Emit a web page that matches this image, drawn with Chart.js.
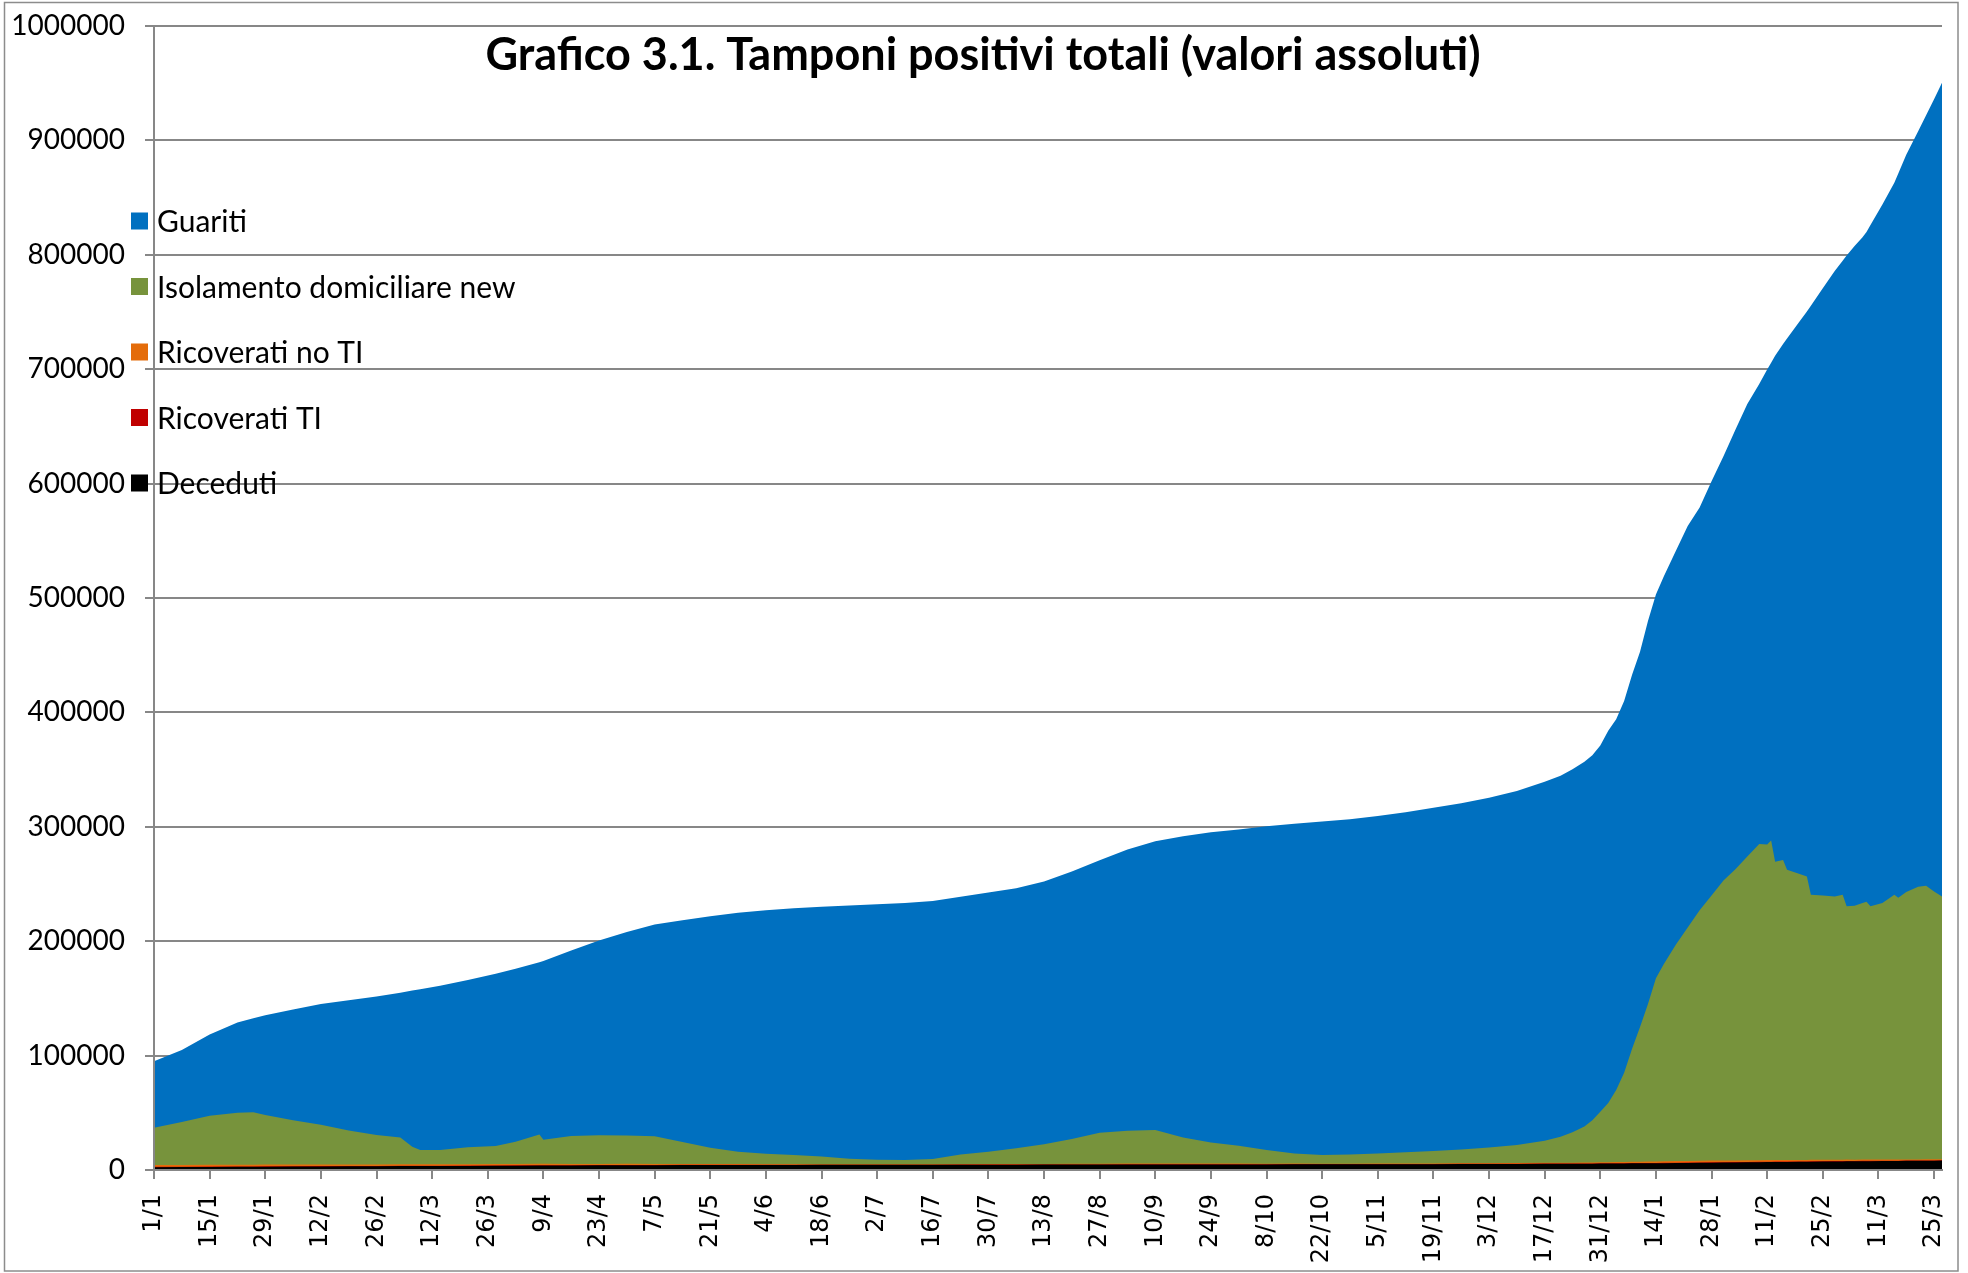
<!DOCTYPE html>
<html>
<head>
<meta charset="utf-8">
<script src="https://cdn.jsdelivr.net/npm/chart.js@4.4.0/dist/chart.umd.min.js"></script>
<style>
  html, body { margin: 0; padding: 0; background: #fff; }
  canvas { display: block; }
</style>
</head>
<body>
<canvas id="chart" width="1968" height="1273"></canvas>
<script>
// day index from 1/1/2021 (0) to 27/3/2022 (450)
const days = [0, 7, 14, 21, 25, 28, 35, 42, 49, 56,
  62, 65, 67, 72, 79, 86, 91, 97, 98, 105,
  112, 119, 126, 133, 140, 147, 154, 161, 168, 175,
  182, 189, 196, 203, 210, 217, 224, 231, 238, 245,
  252, 259, 266, 273, 280, 287, 294, 301, 308, 315,
  322, 329, 336, 343, 350, 354, 357, 360, 362, 364,
  366, 368, 370, 372, 374, 376, 378, 380, 383, 386,
  389, 392, 395, 398, 401, 404, 406, 407, 408, 410,
  411, 414, 416, 417, 420, 423, 425, 426, 428, 430,
  431, 432, 435, 438, 439, 441, 444, 446, 448, 450];

// tick labels, one every 14 days
const dateLabels = ['1/1', '15/1', '29/1', '12/2', '26/2', '12/3', '26/3', '9/4', '23/4', '7/5',
  '21/5', '4/6', '18/6', '2/7', '16/7', '30/7', '13/8', '27/8', '10/9', '24/9',
  '8/10', '22/10', '5/11', '19/11', '3/12', '17/12', '31/12', '14/1', '28/1', '11/2',
  '25/2', '11/3', '25/3'];

const deceduti = [2500, 2600, 2700, 2800, 2800, 2900, 3000, 3100, 3200, 3300,
  3400, 3400, 3500, 3500, 3600, 3700, 3800, 3900, 3900, 4000,
  4100, 4200, 4200, 4300, 4300, 4400, 4400, 4400, 4500, 4500,
  4500, 4500, 4500, 4600, 4600, 4600, 4700, 4700, 4700, 4800,
  4800, 4800, 4900, 4900, 4900, 5000, 5000, 5000, 5100, 5100,
  5100, 5200, 5200, 5300, 5400, 5400, 5400, 5500, 5500, 5600,
  5600, 5700, 5700, 5800, 5800, 5900, 5900, 6000, 6100, 6200,
  6300, 6400, 6500, 6600, 6700, 6800, 6900, 6900, 7000, 7000,
  7100, 7200, 7200, 7300, 7400, 7500, 7500, 7600, 7600, 7700,
  7700, 7700, 7800, 7900, 7900, 8000, 8000, 8100, 8100, 8200];

const ricoveratiTI = [300, 300, 300, 300, 300, 300, 300, 300, 280, 280,
  280, 280, 280, 260, 260, 260, 260, 260, 260, 250,
  250, 240, 230, 220, 210, 200, 190, 180, 170, 160,
  150, 150, 150, 150, 150, 150, 150, 160, 170, 180,
  190, 190, 180, 170, 160, 150, 150, 150, 150, 160,
  170, 180, 190, 200, 210, 220, 220, 230, 240, 250,
  260, 270, 280, 290, 300, 310, 320, 330, 340, 350,
  360, 360, 360, 360, 360, 350, 350, 350, 350, 340,
  340, 330, 330, 330, 320, 310, 310, 310, 300, 300,
  300, 300, 290, 280, 280, 280, 270, 270, 260, 260];

const ricoveratiNoTI = [1500, 1500, 1500, 1500, 1500, 1500, 1400, 1400, 1400, 1300,
  1300, 1300, 1200, 1200, 1200, 1200, 1200, 1200, 1200, 1100,
  1000, 1000, 900, 800, 700, 600, 500, 450, 400, 350,
  300, 300, 300, 350, 400, 450, 500, 550, 600, 650,
  650, 650, 600, 550, 500, 450, 400, 400, 400, 450,
  500, 550, 600, 650, 700, 750, 800, 800, 850, 900,
  950, 1000, 1050, 1100, 1150, 1200, 1250, 1300, 1350, 1400,
  1450, 1450, 1450, 1450, 1450, 1400, 1400, 1400, 1400, 1350,
  1350, 1300, 1300, 1300, 1250, 1200, 1200, 1200, 1150, 1100,
  1100, 1100, 1050, 1050, 1050, 1000, 1000, 1000, 950, 950];

const isolamento = [32700, 37600, 43000, 45400, 45800, 43300, 38800, 34700, 29620, 25720,
  23520, 15420, 12520, 12540, 14740, 15840, 19540, 25640, 21140, 24350,
  24950, 24760, 24170, 19180, 14290, 10800, 9110, 8070, 6630, 4890,
  4050, 3750, 4750, 8400, 10850, 13800, 17150, 21590, 27030, 28670,
  29360, 22860, 18420, 15480, 11940, 8900, 7550, 7950, 8850, 9790,
  10830, 12070, 13610, 15650, 19190, 22630, 26580, 31470, 36910, 44250,
  51690, 63030, 77970, 98810, 117750, 137590, 160130, 172370, 189210, 204050,
  218890, 231790, 244690, 254590, 265490, 276450, 275850, 279350, 260750, 262310,
  253710, 250170, 247670, 231570, 231030, 229990, 231490, 221390, 221950, 224400,
  225400, 221400, 224360, 231270, 228770, 233720, 238230, 239130, 234190, 229590];

const guariti = [58000, 63000, 71000, 79000, 82300, 87300, 96700, 105500, 113900, 121100,
  126500, 136400, 140500, 143500, 146200, 150600, 151200, 150600, 156300, 162100,
  170300, 177900, 185100, 193900, 202300, 208800, 212800, 215700, 218400, 221300,
  223300, 224600, 225500, 225400, 226600, 227200, 229700, 233900, 238300, 245800,
  252300, 263300, 271200, 276600, 282900, 288200, 291600, 293200, 295000, 297300,
  300100, 302600, 305900, 309400, 313900, 315600, 317200, 318800, 319100, 320000,
  325500, 324000, 325000, 327000, 328000, 335000, 335400, 339000, 344000, 351000,
  352000, 362000, 371000, 384000, 395500, 402000, 415200, 417700, 442300, 451000,
  464400, 482000, 494000, 515000, 530700, 546800, 554300, 568800, 576800, 581800,
  585500, 595500, 610500, 622500, 633000, 644500, 660500, 673500, 692500, 711500];

const titleText = 'Grafico 3.1. Tamponi positivi totali (valori assoluti)';
const axisGrey = '#878787';

// legend order as in the picture (top to bottom)
const legendItems = [
  ['Guariti', '#0070C0'],
  ['Isolamento domiciliare new', '#77933C'],
  ['Ricoverati no TI', '#E46C0A'],
  ['Ricoverati TI', '#C00000'],
  ['Deceduti', '#000000']
];

function series(label, values, color) {
  return {
    label: label,
    data: days.map((d, i) => ({ x: d, y: values[i] })),
    backgroundColor: color,
    borderColor: color,
    borderWidth: 0,
    pointRadius: 0,
    tension: 0,
    fill: 'origin'
  };
}

const frame = {
  id: 'frame',
  beforeDraw(chart) {
    const c = chart.ctx;
    c.save();
    c.fillStyle = '#fff';
    c.fillRect(0, 0, chart.width, chart.height);
    c.strokeStyle = '#8c8c8c';
    c.lineWidth = 1.5;
    c.strokeRect(4.5, 2.5, 1953.5, 1268.5);
    c.restore();
  },
  afterDatasetsDraw(chart) {
    const c = chart.ctx, a = chart.chartArea;
    c.save();
    c.strokeStyle = axisGrey;
    c.lineWidth = 2;
    c.beginPath();
    c.moveTo(a.left, a.top);
    c.lineTo(a.left, a.bottom);
    c.lineTo(a.right, a.bottom);
    c.stroke();

    c.fillStyle = '#000';
    c.font = 'bold 45px Lato';
    c.textAlign = 'center';
    c.textBaseline = 'alphabetic';
    c.fillText(titleText, 983, 70);

    c.font = '30px Lato';
    c.textAlign = 'left';
    legendItems.forEach((it, i) => {
      const cy = 221 + i * 65.5;
      c.fillStyle = it[1];
      c.fillRect(131, cy - 8.5, 17, 17);
      c.fillStyle = '#000';
      c.fillText(it[0], 157, cy + 11);
    });
    c.restore();
  }
};

new Chart(document.getElementById('chart'), {
  type: 'line',
  data: {
    datasets: [
      series('Deceduti', deceduti, '#000000'),
      series('Ricoverati TI', ricoveratiTI, '#C00000'),
      series('Ricoverati no TI', ricoveratiNoTI, '#E46C0A'),
      series('Isolamento domiciliare new', isolamento, '#77933C'),
      series('Guariti', guariti, '#0070C0')
    ]
  },
  options: {
    responsive: false,
    animation: false,
    devicePixelRatio: 1,
    layout: { padding: { top: 26, right: 26, left: 0, bottom: 0 } },
    plugins: {
      legend: { display: false },
      title: { display: false },
      tooltip: { enabled: false }
    },
    scales: {
      x: {
        type: 'linear',
        min: 0,
        max: 450,
        afterBuildTicks: (s) => { s.ticks = dateLabels.map((l, i) => ({ value: i * 14 })); },
        afterFit: (s) => { s.height = 103; s.paddingLeft = 0; s.paddingRight = 0; },
        ticks: {
          autoSkip: false,
          minRotation: 90,
          maxRotation: 90,
          padding: 15,
          color: '#000',
          font: { family: 'DejaVu Sans', size: 24 },
          callback: (v, i) => dateLabels[i]
        },
        grid: { drawOnChartArea: false, drawTicks: true, tickLength: 9, color: axisGrey, lineWidth: 2 },
        border: { display: true, color: axisGrey, width: 2 }
      },
      y: {
        stacked: true,
        min: 0,
        max: 1000000,
        afterFit: (s) => { s.width = 154; s.paddingTop = 0; s.paddingBottom = 0; },
        ticks: {
          stepSize: 100000,
          padding: 20,
          color: '#000',
          font: { family: 'Lato', size: 28 },
          callback: (v) => String(v)
        },
        grid: { color: axisGrey, lineWidth: 2, tickLength: 9 },
        border: { display: true, color: axisGrey, width: 2 }
      }
    }
  },
  plugins: [frame]
});
</script>
</body>
</html>
